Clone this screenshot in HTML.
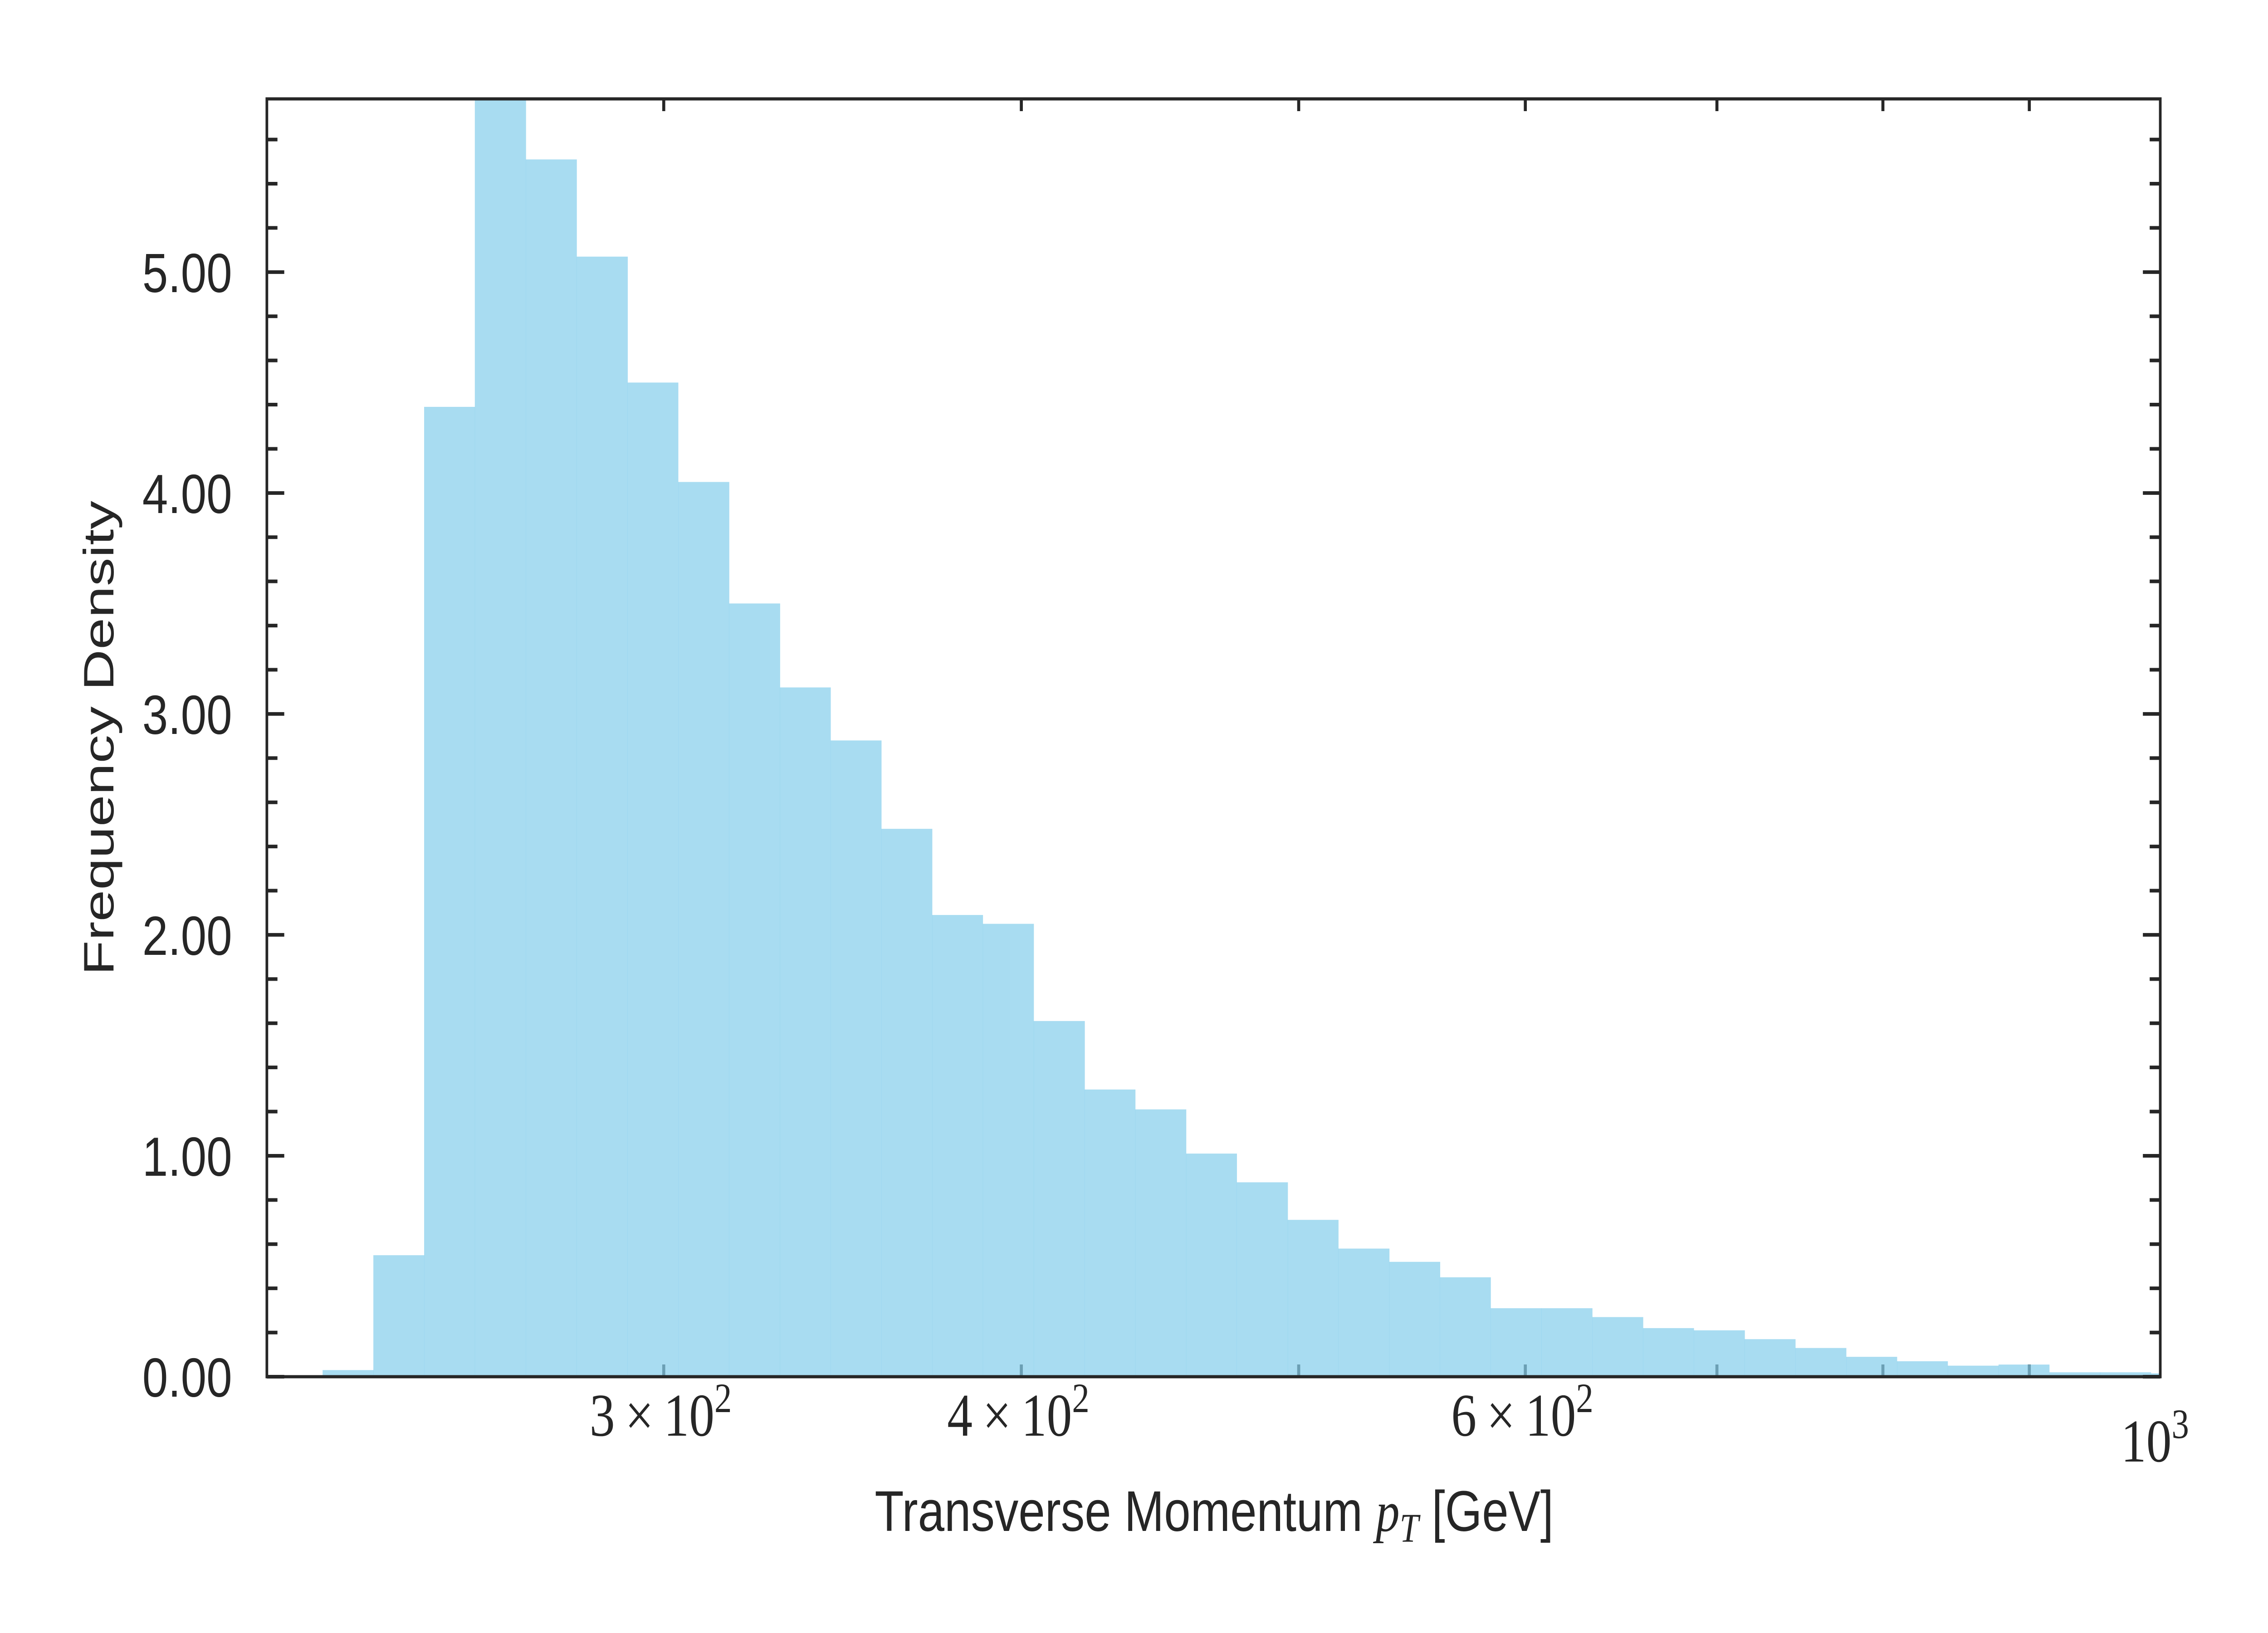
<!DOCTYPE html>
<html><head><meta charset="utf-8"><style>
html,body{margin:0;padding:0;background:#fff;width:100%;height:100%;overflow:hidden}
svg{display:block;width:100vw;height:100vh}
</style></head><body>
<svg id="chart" viewBox="0 0 6000 3600" preserveAspectRatio="none" xmlns="http://www.w3.org/2000/svg">
<defs><clipPath id="plotclip"><rect x="706" y="218" width="5009" height="2817"/></clipPath></defs>
<rect x="0" y="0" width="6000" height="3600" fill="#fff"/>
<g id="ticksUnder"></g>
<g id="bars" clip-path="url(#plotclip)"></g>
<g id="ticks"></g>
<rect x="706" y="218" width="5009" height="2817" fill="none" stroke="#262626" stroke-width="7"/>
<g id="labels"></g>
<text transform="translate(300,1627) rotate(-90)" text-anchor="middle" font-family="Liberation Sans, sans-serif" font-size="112" fill="#262626" textLength="1046" lengthAdjust="spacingAndGlyphs">Frequency Density</text>
<text x="3212" y="3375" text-anchor="middle" font-family="Liberation Sans, sans-serif" font-size="126" fill="#262626">Transverse Momentum <tspan font-family="Liberation Serif, serif" font-style="italic">p</tspan><tspan font-family="Liberation Serif, serif" font-style="italic" font-size="90" dy="24">T</tspan><tspan dy="-24"> [GeV]</tspan></text>
</svg>
<script>
const binEdges = [228, 237.5, 247.4, 257.7, 268.5, 279.7, 291.4, 303.5, 316.2, 329.4, 343.1, 357.4, 372.3, 387.8, 404.0, 420.9, 438.4, 456.7, 475.7, 495.6, 516.2, 537.8, 560.2, 583.5, 607.9, 633.2, 659.6, 687.1, 715.8, 745.6, 776.7, 809.1, 842.8, 878.0, 914.6, 952.7, 992.5, 1033.9];
const densities = [0.03, 0.55, 4.39, 5.9, 5.51, 5.07, 4.50, 4.05, 3.50, 3.12, 2.88, 2.48, 2.09, 2.05, 1.61, 1.30, 1.21, 1.01, 0.88, 0.71, 0.58, 0.52, 0.45, 0.31, 0.31, 0.27, 0.22, 0.21, 0.17, 0.13, 0.09, 0.07, 0.05, 0.055, 0.02, 0.02, 0.015];
const yTickValues = [0, 1, 2, 3, 4, 5];
const yTickLabels = ["0.00", "1.00", "2.00", "3.00", "4.00", "5.00"];
const xMinorTicks = [300, 400, 500, 600, 700, 800, 900];
const xLabelValues = [300, 400, 600];
const xLabelMantissa = ["3", "4", "6"];

const L = 706, R = 5715, T = 218, B = 3035;
const xMin = 218, xMax = 1000, yMin = 0, yMax = 5.784;
const NS = "http://www.w3.org/2000/svg";
function xs(v){ return L + (Math.log10(v) - Math.log10(xMin)) / (Math.log10(xMax) - Math.log10(xMin)) * (R - L); }
function ys(v){ return B - (v - yMin) / (yMax - yMin) * (B - T); }
function mk(tag, attrs, parent){ const e = document.createElementNS(NS, tag); for (const k in attrs) e.setAttribute(k, attrs[k]); parent.appendChild(e); return e; }

const barsG = document.getElementById('bars');
for (let i = 0; i < densities.length; i++) {
  const x0 = Math.max(L, xs(binEdges[i]));
  const x1 = Math.min(R, xs(binEdges[i+1]) + 0.5);
  const y = Math.max(T, ys(densities[i]));
  if (x1 <= x0) continue;
  const r = mk('rect', {x: x0, y: y, width: x1 - x0, height: B - y, fill: '#87ceeb', 'fill-opacity': 0.72}, barsG);
  
  
}

const tu = document.getElementById('ticksUnder');
const tg = document.getElementById('ticks');
const stroke = {stroke: '#262626', 'stroke-width': 8};
for (const v of xMinorTicks) {
  const x = xs(v);
  const b = mk('line', Object.assign({x1: x, x2: x, y1: B, y2: B - 27}, stroke), tu);
  
  
  const t = mk('line', Object.assign({x1: x, x2: x, y1: T, y2: T + 27}, stroke), tg);
  
  
}
for (let v = 0; v <= 5.7; v += 0.2) {
  const vv = Math.round(v * 10) / 10;
  const major = Math.abs(vv - Math.round(vv)) < 1e-6;
  const len = major ? 46 : 28;
  const y = ys(vv);
  const a = mk('line', Object.assign({x1: L, x2: L + len, y1: y, y2: y}, stroke), tg);
  
  
  const b = mk('line', Object.assign({x1: R, x2: R - len, y1: y, y2: y}, stroke), tg);
  
  
}

const lg = document.getElementById('labels');
yTickValues.forEach((v, i) => {
  const t = mk('text', {x: 614, y: ys(v) + 44, 'text-anchor': 'end', 'font-family': 'Liberation Sans, sans-serif', 'font-size': 122, fill: '#262626'}, lg);
  
  
  t.textContent = yTickLabels[i];
});
xLabelValues.forEach((v, i) => {
  const t = mk('text', {x: xs(v) - 8, y: 3165, 'text-anchor': 'middle', 'font-family': 'Liberation Serif, serif', 'font-size': 134, fill: '#262626'}, lg);
  
  
  t.innerHTML = xLabelMantissa[i] + '\u2009\u00d7\u200910<tspan font-size="92" dy="-52">2</tspan>';
});
const t3 = mk('text', {x: xs(1000) - 14, y: 3222, 'text-anchor': 'middle', 'font-family': 'Liberation Serif, serif', 'font-size': 134, fill: '#262626'}, lg);


t3.innerHTML = '10<tspan font-size="92" dy="-52">3</tspan>';
</script>
</body></html>
